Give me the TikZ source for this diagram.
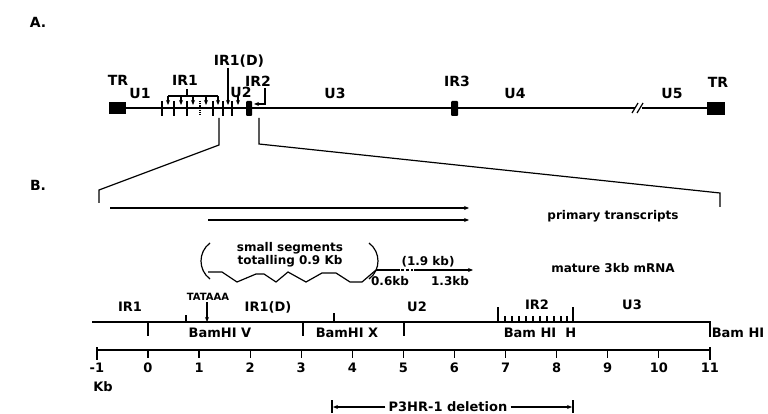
\documentclass[tikz,border=0pt]{standalone}
\usepackage{fontspec}
\setmainfont{DejaVu Sans}
\usetikzlibrary{arrows.meta}

\tikzset{
    lbl/.style={font=\bfseries\fontsize{14}{16}\selectfont, inner sep=0pt},
    maplbl/.style={font=\bfseries\fontsize{13}{15}\selectfont, inner sep=0pt},
    txt/.style={font=\bfseries\fontsize{12}{14}\selectfont, inner sep=0pt},
    tinylbl/.style={font=\bfseries\fontsize{10}{11}\selectfont, inner sep=0pt},
    arr/.style={-{Stealth[length=5pt,width=4pt]}},
    genome/.style={line width=1.6pt},
    thin line/.style={line width=1.2pt}
}

\begin{document}
\begin{tikzpicture}[x=1pt, y=-1pt, line cap=butt]
    \useasboundingbox (0,0) rectangle (768,414);

    % ---------- A: genome map ----------
    \node[lbl] (headA) at (38,22) {A.};

    \draw[genome] (126,108) -- (635,108);
    \draw[genome] (642,108) -- (707,108);
    \draw[thin line] (632,113) -- (638,103);
    \draw[thin line] (637,113) -- (643,103);

    \fill (109,102) rectangle (126,114);
    \fill (707,102) rectangle (725,115);
    \fill[rounded corners=1pt] (246,101) rectangle (252,116);
    \fill[rounded corners=1pt] (451,101) rectangle (458,116);

    \foreach \x in {162,174,187,213,223,232}
        \draw[thin line] (\x,101) -- (\x,116);
    \draw[thin line, densely dotted] (200,101) -- (200,116);

    % IR1 bracket
    \draw[thin line] (168,96) -- (218,96);
    \draw[thin line] (187,96) -- (187,89);
    \foreach \x in {168,181,193,206,218}
        \draw[thin line, arr] (\x,96) -- (\x,105);
    \draw[thin line, arr] (228,68) -- (228,105);
    \draw[thin line, arr] (238,96) -- (238,105);
    \draw[thin line, arr] (265,88) -- (265,104) -- (254,104);

    \node[lbl] (trL) at (118,80) {TR};
    \node[lbl] (uOne) at (140,93) {U1};
    \node[lbl] (irOne) at (185,80) {IR1};
    \node[lbl] (irOneD) at (239,61) {IR1(D)};
    \node[lbl] (uTwo) at (241,92) {U2};
    \node[lbl] (irTwo) at (258,81) {IR2};
    \node[lbl] (uThree) at (335,93) {U3};
    \node[lbl] (irThree) at (457,81) {IR3};
    \node[lbl] (uFour) at (515,93) {U4};
    \node[lbl] (uFive) at (672,93) {U5};
    \node[lbl] (trR) at (718,82) {TR};

    % expansion
    \draw[thin line] (219,118) -- (219,145) -- (99,190) -- (99,203);
    \draw[thin line] (259,118) -- (259,144) -- (720,193) -- (720,207);

    % ---------- B: expanded region ----------
    \node[lbl] (headB) at (38,185) {B.};

    \coordinate (tOneS) at (110,208);
    \coordinate (tOneE) at (469,208);
    \coordinate (tTwoS) at (208,220);
    \coordinate (tTwoE) at (469,220);
    \draw[thin line, arr] (tOneS) -- (tOneE);
    \draw[thin line, arr] (tTwoS) -- (tTwoE);
    \node[txt] (primary) at (613,216) {primary transcripts};

    % mRNA
    \draw[thin line] (210,243) .. controls (198,252) and (198,270) .. (210,279);
    \draw[thin line] (369,243) .. controls (381,252) and (381,270) .. (369,279);
    \node[txt] (small) at (290,248) {small segments};
    \node[txt] (totalling) at (290,261) {totalling 0.9 Kb};
    \draw[thin line] (208,272) -- (222,272) -- (237,282) -- (256,274) -- (264,274)
        -- (276,282) -- (288,272) -- (306,282) -- (322,273) -- (336,273)
        -- (350,282) -- (362,282) -- (376,270);
    \coordinate (mStart) at (376,270);
    \coordinate (mEnd) at (473,270);
    \draw[thin line] (mStart) -- (400,270);
    \draw[thin line, densely dashed] (401,270) -- (413,270);
    \draw[thin line, arr] (414,270) -- (mEnd);
    \node[txt] (total) at (428,262) {(1.9 kb)};
    \node[txt] (sixkb) at (390,281) {0.6kb};
    \node[txt] (threekb) at (450,281) {1.3kb};
    \node[txt] (mature) at (613,268) {mature 3kb mRNA};

    % restriction map
    \draw[thin line] (92,322) -- (710,322) -- (710,337);
    \draw[thin line] (186,322) -- (186,315);
    \draw[thin line] (334,322) -- (334,313);
    \draw[thin line] (498,322) -- (498,307);
    \draw[thin line] (573,322) -- (573,307);
    \foreach \x in {505,512,519,526,533,540,547,554,561,567}
        \draw[thin line] (\x,322) -- (\x,316);
    \foreach \x in {148,303,404}
        \draw[thin line] (\x,322) -- (\x,336);

    \node[tinylbl] (tata) at (208,297) {TATAAA};
    \draw[thin line, arr] (207,302) -- (207,322);

    \node[maplbl] (mIRone) at (130,307) {IR1};
    \node[maplbl] (mIRoneD) at (268,307) {IR1(D)};
    \node[maplbl] (mUtwo) at (417,307) {U2};
    \node[maplbl] (mIRtwo) at (537,305) {IR2};
    \node[maplbl] (mUthree) at (632,305) {U3};
    \node[maplbl] (bamV) at (220,333) {BamHI V};
    \node[maplbl] (bamX) at (347,333) {BamHI X};
    \node[maplbl] (bamH) at (540,333) {Bam HI\ \ H};
    \node[maplbl] (bamEnd) at (738,333) {Bam HI};

    % scale in kb
    \draw[thin line] (97,350) -- (710,350);
    \foreach \k in {-1,...,11} {
        \draw[thin line] ({148+51.08*\k},350) -- ({148+51.08*\k},358);
        \node[maplbl] (num\k) at ({148+51.08*\k},368) {\k};
    }
    \draw[thin line] (97,347) -- (97,360);
    \draw[thin line] (710,347) -- (710,360);
    \node[maplbl] (kb) at (103,387) {Kb};

    % deletion
    \node[maplbl] (del) at (448,407) {P3HR-1 deletion};
    \coordinate (delL) at (333,407);
    \coordinate (delR) at (572,407);
    \draw[thin line, arr] (del.west) ++(-3,0) -- (delL);
    \draw[thin line, arr] (del.east) ++(3,0) -- (delR);
    \draw[thin line] (332,400) -- (332,413);
    \draw[thin line] (573,400) -- (573,413);
\end{tikzpicture}
\end{document}
